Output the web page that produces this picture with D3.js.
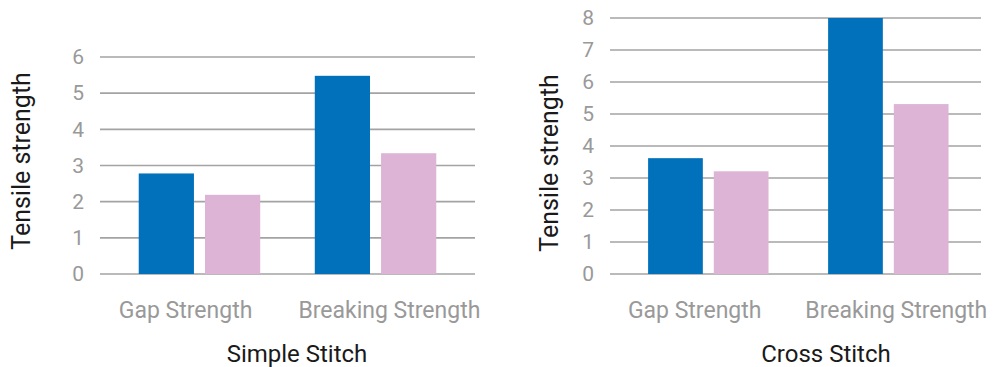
<!DOCTYPE html>
<html>
<head>
<meta charset="utf-8">
<script src="https://cdn.jsdelivr.net/npm/d3@7"></script>
<style>
    body { margin: 0; background: #fff; }
    svg { display: block; font-family: Roboto, "DejaVu Sans", sans-serif; }
</style>
</head>
<body>
<div id="chart"></div>
<script>
const WIDTH = 995;
const HEIGHT = 367;

const categories = ['Gap Strength', 'Breaking Strength'];
const seriesNames = ['Series 1', 'Series 2'];

// Simple Stitch values
const simpleSeries1 = [2.78, 5.48];
const simpleSeries2 = [2.19, 3.34];

// Cross Stitch values
const crossSeries1 = [3.62, 8.0];
const crossSeries2 = [3.21, 5.31];

const simpleTicks = [0, 1, 2, 3, 4, 5, 6];
const crossTicks = [0, 1, 2, 3, 4, 5, 6, 7, 8];

const COLORS = ['#0071ba', '#deb4d6'];

const svg = d3.select('#chart')
    .append('svg')
    .attr('width', WIDTH)
    .attr('height', HEIGHT);

drawPanel({
    title: 'Simple Stitch',
    series: [simpleSeries1, simpleSeries2],
    ticks: simpleTicks,
    left: 100, right: 475, top: 57, bottom: 274,
    padInner: 0.31, padOuter: 0.22, align: 0.5,
    yTitleX: 21, yTitleY: 161, titleX: 297,
});

drawPanel({
    title: 'Cross Stitch',
    series: [crossSeries1, crossSeries2],
    ticks: crossTicks,
    left: 610, right: 981, top: 18, bottom: 274,
    padInner: 0.331, padOuter: 0.196, align: 0.54,
    yTitleX: 549, yTitleY: 163, titleX: 826,
});

function drawPanel(cfg) {
    const g = svg.append('g');

    const y = d3.scaleLinear()
        .domain([0, d3.max(cfg.ticks)])
        .range([cfg.bottom, cfg.top]);

    const x0 = d3.scaleBand()
        .domain(categories)
        .range([cfg.left, cfg.right])
        .paddingInner(cfg.padInner)
        .paddingOuter(cfg.padOuter)
        .align(cfg.align);

    const x1 = d3.scaleBand()
        .domain(seriesNames)
        .range([0, x0.bandwidth()])
        .paddingInner(0.167);

    // labels sit a little wider apart than the bar groups
    const xLabel = d3.scalePoint()
        .domain(categories)
        .range([cfg.left, cfg.right])
        .padding(0.42);

    // Grid lines
    g.append('g')
        .selectAll('line')
        .data(cfg.ticks)
        .enter()
        .append('line')
        .attr('x1', cfg.left)
        .attr('x2', cfg.right)
        .attr('y1', d => y(d))
        .attr('y2', d => y(d))
        .style('stroke', '#a3a3a3')
        .style('stroke-width', 1.6);

    // Y axis labels
    const yAxis = g.append('g')
        .attr('transform', `translate(${cfg.left},0)`)
        .call(d3.axisLeft(y).tickValues(cfg.ticks).tickSize(0).tickPadding(16).tickFormat(d3.format('d')));
    yAxis.select('.domain').remove();
    yAxis.selectAll('text')
        .style('font-size', '21px')
        .style('font-family', 'Roboto, sans-serif')
        .style('fill', '#999999');

    // Bars
    const rows = categories.map((c, i) => ({
        category: c,
        values: cfg.series.map((s, j) => ({ name: seriesNames[j], value: s[i], idx: j })),
    }));

    const groups = g.selectAll('g.group')
        .data(rows)
        .enter()
        .append('g')
        .attr('class', 'group')
        .attr('transform', d => `translate(${x0(d.category)},0)`);

    groups.selectAll('rect')
        .data(d => d.values)
        .enter()
        .append('rect')
        .attr('x', d => x1(d.name))
        .attr('width', x1.bandwidth())
        .attr('y', d => y(d.value))
        .attr('height', d => y(0) - y(d.value))
        .style('fill', d => COLORS[d.idx]);

    // Category labels
    g.selectAll('text.cat')
        .data(categories)
        .enter()
        .append('text')
        .attr('class', 'cat')
        .attr('x', d => xLabel(d))
        .attr('y', 318)
        .style('text-anchor', 'middle')
        .style('font-size', '23px')
        .style('fill', '#999999')
        .text(d => d);

    // Panel title
    g.append('text')
        .attr('x', cfg.titleX)
        .attr('y', 362)
        .style('text-anchor', 'middle')
        .style('font-size', '24px')
        .style('fill', '#1a1a1a')
        .text(cfg.title);

    // Y axis title
    g.append('text')
        .attr('transform', `translate(${cfg.yTitleX},${cfg.yTitleY}) rotate(-90)`)
        .attr('dy', '0.35em')
        .style('text-anchor', 'middle')
        .style('font-size', '25px')
        .style('fill', '#1a1a1a')
        .text('Tensile strength');
}
</script>
</body>
</html>
